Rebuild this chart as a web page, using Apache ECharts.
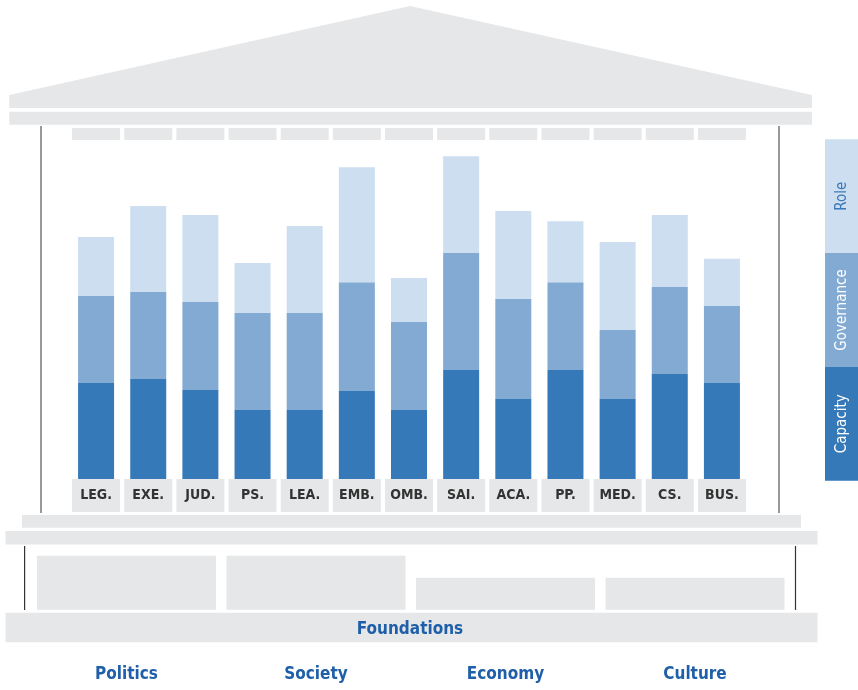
<!DOCTYPE html>
<html>
<head>
<meta charset="utf-8">
<script src="https://cdn.jsdelivr.net/npm/echarts@6/dist/echarts.min.js"></script>
<style>html,body{margin:0;padding:0;background:#fff}#c{width:858px;height:690px}</style>
</head>
<body>
<div id="c"></div>
<script>
// ---- data ----
const categories = ['LEG.','EXE.','JUD.','PS.','LEA.','EMB.','OMB.','SAI.','ACA.','PP.','MED.','CS.','BUS.'];
const capacity   = [32, 33.3, 29.7, 23, 23, 29.3, 23, 36.3, 26.7, 36.3, 26.7, 35, 32];
const governance = [29, 29, 29.3, 32.3, 32.3, 36.3, 29.3, 39, 33.3, 29.3, 23, 29, 25.7];
const role       = [19.7, 28.7, 29, 16.7, 29, 38.3, 14.7, 32.3, 29.3, 20.3, 29.3, 24, 15.7];
const pillars = ['Politics','Society','Economy','Culture'];
const foundationValues = [54, 54, 32, 32];
const legendLabels = ['Role','Governance','Capacity'];
const baseLabel = 'Foundations';

const FONT = "'Liberation Sans Narrow','DejaVu Sans Condensed','Roboto Condensed',sans-serif";
const GRAY = '#e6e7e8';
const C_CAP = '#3579b9', C_GOV = '#82aad3', C_ROLE = '#cddef0';
const BLUE_TXT = '#1f5fa9';

const chart = echarts.init(document.getElementById('c'), null, {renderer:'canvas'});

const legendColors = [C_ROLE, C_GOV, C_CAP];
const legendText = ['#3a78b8', '#ffffff', '#ffffff'];
const legendGraphics = [];
legendLabels.forEach((l, i) => {
  const y0 = 139.3 + i * 113.8;
  legendGraphics.push({type:'rect', shape:{x:825, y:y0, width:33, height:113.8}, style:{fill:legendColors[i]}});
  legendGraphics.push({type:'text', x:842, y:y0 + 56.9, rotation:Math.PI/2,
    style:{text:l, fill:legendText[i], font:'15px ' + FONT, align:'center', verticalAlign:'middle'}});
});

const option = {
  animation: false,
  grid: [
    {left:70, width:678, top:149, height:330},
    {left:31.75, width:758, top:549.7, height:60}
  ],
  xAxis: [
    {type:'category', gridIndex:0, data:categories, position:'bottom',
     axisLine:{show:false}, axisTick:{show:false},
     axisLabel:{interval:0, margin:0, backgroundColor:GRAY, width:48, height:33, lineHeight:33,
       align:'center', color:'#333', fontWeight:'bold', fontSize:14, fontFamily:FONT}},
    {type:'category', gridIndex:0, data:categories, position:'top',
     axisLine:{show:false}, axisTick:{show:false},
     axisLabel:{interval:0, margin:9, formatter:() => ' ', backgroundColor:GRAY, width:48, height:12, lineHeight:12, fontSize:10}},
    {type:'category', gridIndex:1, data:pillars, position:'bottom',
     axisLine:{show:false}, axisTick:{show:false},
     axisLabel:{interval:0, margin:56, color:BLUE_TXT, fontWeight:'bold', fontSize:17, fontFamily:FONT}}
  ],
  yAxis: [
    {type:'value', gridIndex:0, min:0, max:110, show:false},
    {type:'value', gridIndex:1, min:0, max:60, show:false}
  ],
  series: [
    {name:'Capacity', type:'bar', stack:'s', xAxisIndex:0, yAxisIndex:0, barWidth:36, data:capacity, itemStyle:{color:C_CAP}},
    {name:'Governance', type:'bar', stack:'s', xAxisIndex:0, yAxisIndex:0, barWidth:36, data:governance, itemStyle:{color:C_GOV}},
    {name:'Role', type:'bar', stack:'s', xAxisIndex:0, yAxisIndex:0, barWidth:36, data:role, itemStyle:{color:C_ROLE}},
    {name:'Foundations', type:'bar', xAxisIndex:2, yAxisIndex:1, barWidth:179, data:foundationValues, itemStyle:{color:GRAY}}
  ],
  graphic: [
    {type:'polygon', shape:{points:[[9.3,95],[410,6],[812,95],[812,108],[9.3,108]]}, style:{fill:GRAY}},
    {type:'rect', shape:{x:9.3, y:111.7, width:802.7, height:13}, style:{fill:GRAY}},
    {type:'line', shape:{x1:41, y1:126, x2:41, y2:513}, style:{stroke:'#555', lineWidth:1.2}},
    {type:'line', shape:{x1:779, y1:126, x2:779, y2:513}, style:{stroke:'#555', lineWidth:1.2}},
    {type:'rect', shape:{x:22, y:515, width:779, height:12.7}, style:{fill:GRAY}},
    {type:'rect', shape:{x:5.5, y:531, width:812, height:13.5}, style:{fill:GRAY}},
    {type:'line', shape:{x1:24.6, y1:546, x2:24.6, y2:610}, style:{stroke:'#333', lineWidth:1.2}},
    {type:'line', shape:{x1:795.5, y1:546, x2:795.5, y2:610}, style:{stroke:'#333', lineWidth:1.2}},
    {type:'rect', shape:{x:5.5, y:612.7, width:812, height:29.5}, style:{fill:GRAY}},
    {type:'text', x:410, y:630, style:{text:baseLabel, fill:BLUE_TXT, font:'bold 17px ' + FONT, align:'center', verticalAlign:'middle'}},
    ...legendGraphics
  ]
};
chart.setOption(option);
</script>
</body>
</html>
